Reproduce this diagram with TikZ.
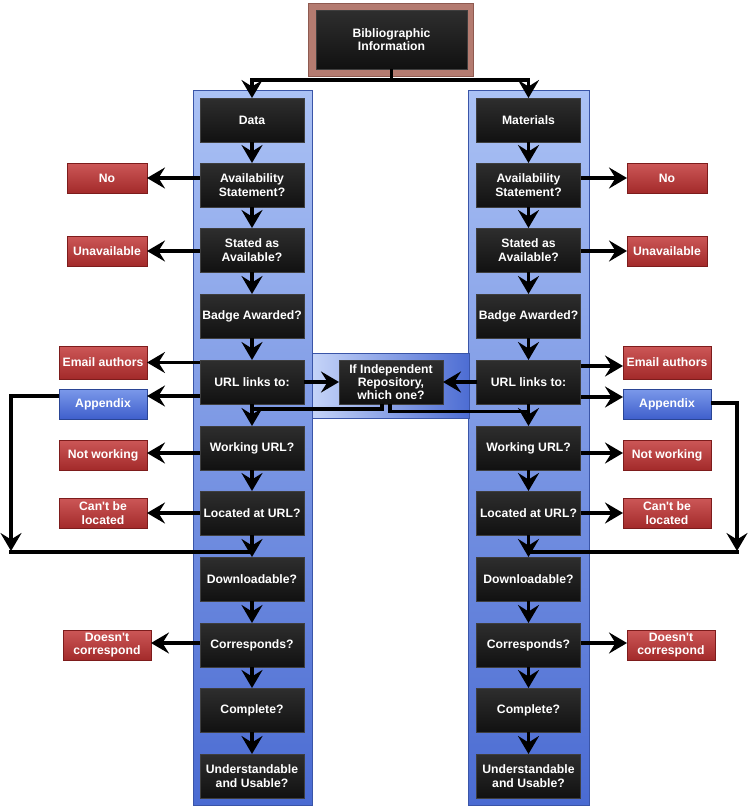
\documentclass[tikz,border=0pt]{standalone}
\usepackage{fontspec}
\setmainfont{Liberation Sans}
\usetikzlibrary{arrows.meta,calc}
\definecolor{blktop}{HTML}{2E2E2E}
\definecolor{blkbot}{HTML}{111111}
\definecolor{blkborder}{HTML}{3E3E3E}
\definecolor{redtop}{HTML}{CC5757}
\definecolor{redbot}{HTML}{A32A2A}
\definecolor{redborder}{HTML}{7D1C1C}
\definecolor{blutop}{HTML}{7B99EA}
\definecolor{blubot}{HTML}{3F5FCC}
\definecolor{bluborder}{HTML}{2A4595}
\definecolor{pantop}{HTML}{ABC2F5}
\definecolor{panbot}{HTML}{4A6BD2}
\definecolor{panborder}{HTML}{3A55A8}
\definecolor{midleft}{HTML}{C5D4F8}
\definecolor{midright}{HTML}{4D6DD3}
\definecolor{bibouter}{HTML}{B47B70}
\definecolor{bibborder}{HTML}{8F5A50}
\begin{document}
\begin{tikzpicture}[x=1pt,y=-1pt,
  txt/.style={font=\bfseries\fontsize{12.2}{13.3}\selectfont, text=white, align=center, inner sep=0pt, outer sep=0pt},
  blk/.style={txt, minimum width=104pt, minimum height=44pt, draw=blkborder, line width=0.8pt, top color=blktop, bottom color=blkbot},
  redbox/.style={txt, minimum width=80pt, minimum height=30pt, draw=redborder, line width=0.8pt, top color=redtop, bottom color=redbot},
  redwide/.style={redbox, minimum width=88pt},
  bluebox/.style={txt, minimum width=88pt, minimum height=30pt, draw=bluborder, line width=0.8pt, top color=blutop, bottom color=blubot},
  panel/.style={draw=panborder, line width=1pt, top color=pantop, bottom color=panbot},
  conn/.style={line width=3.5pt, -{Stealth[length=18pt,width=21pt,inset=6.5pt]}},
  wire/.style={line width=3.5pt},
]
\useasboundingbox (0,0) rectangle (749,809);
\fill[white] (0,0) rectangle (749,809);

% panels
\path[panel] (193,90) rectangle (312,805);
\path[panel] (468,90) rectangle (589,805);
\path[draw=panborder, line width=1pt, left color=midleft, right color=midright] (312,353) rectangle (469,418);

% top box
\path[fill=bibouter, draw=bibborder, line width=0.8pt] (308,3) rectangle (473,76);
\node[blk, minimum width=151pt, minimum height=59pt] (bib) at (391.5,39.5) {Bibliographic\\Information};

% left column
\node[blk] (dL)   at (252,120) {Data};
\node[blk] (avL)  at (252,185) {Availability\\Statement?};
\node[blk] (stL)  at (252,250) {Stated as\\Available?};
\node[blk] (bdL)  at (252,316) {Badge Awarded?};
\node[blk] (urlL) at (252,382) {URL links to:};
\node[blk] (wkL)  at (252,448) {Working URL?};
\node[blk] (loL)  at (252,513) {Located at URL?};
\node[blk] (dnL)  at (252,579) {Downloadable?};
\node[blk] (coL)  at (252,645) {Corresponds?};
\node[blk] (cpL)  at (252,710) {Complete?};
\node[blk] (unL)  at (252,776) {Understandable\\and Usable?};

% right column
\node[blk] (dR)   at (528.5,120) {Materials};
\node[blk] (avR)  at (528.5,185) {Availability\\Statement?};
\node[blk] (stR)  at (528.5,250) {Stated as\\Available?};
\node[blk] (bdR)  at (528.5,316) {Badge Awarded?};
\node[blk] (urlR) at (528.5,382) {URL links to:};
\node[blk] (wkR)  at (528.5,448) {Working URL?};
\node[blk] (loR)  at (528.5,513) {Located at URL?};
\node[blk] (dnR)  at (528.5,579) {Downloadable?};
\node[blk] (coR)  at (528.5,645) {Corresponds?};
\node[blk] (cpR)  at (528.5,710) {Complete?};
\node[blk] (unR)  at (528.5,776) {Understandable\\and Usable?};

% middle
\node[blk] (ifb) at (391,382) {If Independent\\Repository,\\which one?};

% left outcome boxes
\node[redbox]  (noL)  at (107,178) {No};
\node[redbox]  (unaL) at (107,251) {Unavailable};
\node[redwide, minimum height=33pt] (emL) at (103,362.5) {Email authors};
\node[bluebox] (apL)  at (103,404) {Appendix};
\node[redwide] (nwL)  at (103,455) {Not working};
\node[redwide] (clL)  at (103,513) {Can\textquotesingle t be\\located};
\node[redwide] (dcL)  at (107,645) {Doesn\textquotesingle t\\correspond};

% right outcome boxes
\node[redbox]  (noR)  at (667,178) {No};
\node[redbox]  (unaR) at (667,251) {Unavailable};
\node[redwide, minimum height=33pt] (emR) at (667,362.5) {Email authors};
\node[bluebox] (apR)  at (667,404) {Appendix};
\node[redwide] (nwR)  at (667,455) {Not working};
\node[redwide] (clR)  at (667,513) {Can\textquotesingle t be\\located};
\node[redwide] (dcR)  at (671,645) {Doesn\textquotesingle t\\correspond};

% top split
\coordinate (split) at (391.5,80);
\draw[wire] (bib.south) -- (split);
\draw[conn] (split) -| (dL.north);
\draw[conn] (split) -| (dR.north);

% wires from middle box and appendix loops (under arrows)
\coordinate (jL) at (252,409);
\coordinate (jR) at (528.5,411.5);
\draw[wire] ([xshift=-9pt]ifb.south) |- (jL);
\draw[wire] ([xshift=-1pt]ifb.south) |- (jR);

\coordinate (aL1) at (11,396);
\coordinate (aL2) at (11,551);
\coordinate (bL) at (9.25,552);
\draw[conn] (apL.west |- aL1) -- (aL1) -- (aL2);
\draw[wire] (bL) -- (loL.south |- bL);

\coordinate (aR1) at (737,403);
\coordinate (aR2) at (737,551);
\coordinate (bR) at (738.75,552);
\draw[conn] (apR.east |- aR1) -- (aR1) -- (aR2);
\draw[wire] (bR) -- (loR.south |- bR);

% vertical flows
\foreach \c in {L,R}{
  \draw[conn] (d\c) -- (av\c);
  \draw[conn] (av\c) -- (st\c);
  \draw[conn] (st\c) -- (bd\c);
  \draw[conn] (bd\c) -- (url\c);
  \draw[conn] (url\c) -- (wk\c);
  \draw[conn] (wk\c) -- (lo\c);
  \draw[conn] (lo\c) -- (dn\c);
  \draw[conn] (dn\c) -- (co\c);
  \draw[conn] (co\c) -- (cp\c);
  \draw[conn] (cp\c) -- (un\c);
}

% to middle
\draw[conn] (urlL) -- (ifb);
\draw[conn] (urlR) -- (ifb);

% left side outcomes
\draw[conn] (avL.west |- noL.east) -- (noL.east);
\draw[conn] (stL.west |- unaL.east) -- (unaL.east);
\draw[conn] (urlL.west |- emL.east) -- (emL.east);
\draw[conn] (urlL.west |- 0,396) -- (apL.east |- 0,396);
\draw[conn] (wkL.west |- 0,453) -- (nwL.east |- 0,453);
\draw[conn] (loL.west |- clL.east) -- (clL.east);
\draw[conn] (coL.west |- 0,643) -- (dcL.east |- 0,643);

% right side outcomes
\draw[conn] (avR.east |- noR.west) -- (noR.west);
\draw[conn] (stR.east |- unaR.west) -- (unaR.west);
\draw[conn] (urlR.east |- 0,366) -- (emR.west |- 0,366);
\draw[conn] (urlR.east |- 0,397) -- (apR.west |- 0,397);
\draw[conn] (wkR.east |- 0,453) -- (nwR.west |- 0,453);
\draw[conn] (loR.east |- clR.west) -- (clR.west);
\draw[conn] (coR.east |- 0,643) -- (dcR.west |- 0,643);
\end{tikzpicture}
\end{document}
